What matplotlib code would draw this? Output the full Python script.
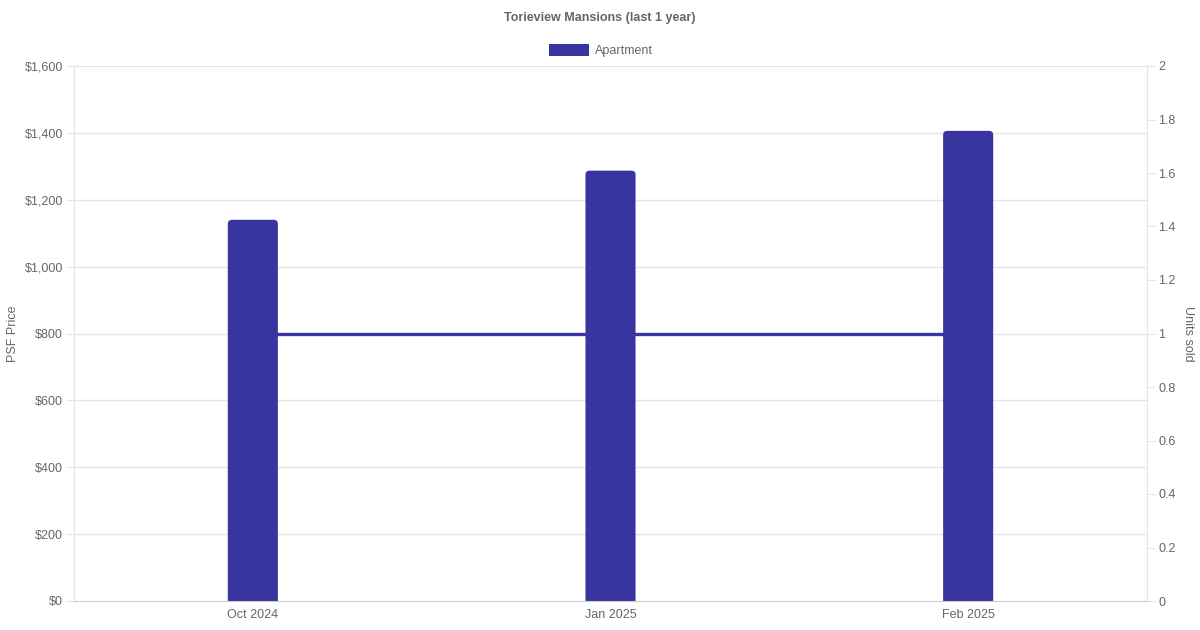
import matplotlib.pyplot as plt
import numpy as np
from matplotlib.patches import FancyBboxPatch

months = ["Oct 2024", "Jan 2025", "Feb 2025"]
psf_price = [1140, 1287, 1406]
units_sold = [1, 1, 1]

BLUE = "#3834a0"
GRID = "#e5e5e5"
TEXT = "#666666"

plt.rcParams["font.family"] = ["Liberation Sans", "DejaVu Sans"]

fig = plt.figure(figsize=(12, 6.3), dpi=100)
ax = fig.add_axes([74 / 1200, 29 / 630, 1073 / 1200, 535 / 630])
ax2 = ax.twinx()

x = np.arange(len(months))
bars = ax.bar(x, psf_price, width=0.14, color=BLUE, zorder=3)

# rounded top corners; bottom pushed below the axis so it gets clipped square
for b in bars:
    b.set_visible(False)
    bx, bw, bh = b.get_x(), b.get_width(), b.get_height()
    ax.add_patch(FancyBboxPatch((bx, -30), bw, bh + 30, boxstyle="round,pad=0,rounding_size=0.012",
                                mutation_aspect=1000, facecolor=BLUE, lw=0, zorder=3))

ax.set_xlim(-0.5, len(months) - 0.5)
ax.set_ylim(0, 1600)
ax2.set_ylim(0, 2)
left_ticks = np.arange(0, 1601, 200)
ax.set_yticks(left_ticks)
ax.set_yticklabels([f"${v:,.0f}" for v in left_ticks])
ax2.set_yticks(np.arange(0, 2.01, 0.2))
ax2.set_yticklabels(["0", "0.2", "0.4", "0.6", "0.8", "1", "1.2", "1.4", "1.6", "1.8", "2"])
ax.set_xticks(x)
ax.set_xticklabels(months)

# grid follows the left axis but sits under the line
for v in left_ticks[1:]:
    ax2.axhline(v / 800, color=GRID, lw=1, zorder=0)
ax2.plot(x, units_sold, color=BLUE, lw=2.4, zorder=2)
ax.set_zorder(ax2.get_zorder() + 1)
ax.patch.set_visible(False)

for a in (ax, ax2):
    for s in a.spines.values():
        s.set_visible(False)
ax.spines["left"].set_visible(True)
ax.spines["left"].set_color(GRID)
ax.spines["bottom"].set_visible(True)
ax.spines["bottom"].set_color("#cccccc")
ax.spines["bottom"].set_zorder(5)
ax2.spines["right"].set_visible(True)
ax2.spines["right"].set_color(GRID)

ax.tick_params(axis="y", colors=TEXT, length=6, color=GRID, labelsize=9, pad=2)
ax.tick_params(axis="x", colors=TEXT, length=0, labelsize=9, pad=6)
ax2.tick_params(axis="y", colors=TEXT, length=6, color=GRID, labelsize=9, pad=2)

ax.set_ylabel("PSF Price", color=TEXT, fontsize=9, labelpad=4)
ax2.set_ylabel("Units sold", color=TEXT, fontsize=9, rotation=270, labelpad=13)

fig.text(0.5, 1 - 18 / 630, "Torieview Mansions (last 1 year)", ha="center", va="center",
         color=TEXT, fontsize=9, fontweight="bold")

# legend
fig.patches.append(plt.Rectangle((549 / 1200, 1 - 56 / 630), 40 / 1200, 12 / 630,
                                 transform=fig.transFigure, facecolor=BLUE, lw=0, figure=fig))
fig.text(595 / 1200, 1 - 51 / 630, "Apartment", ha="left", va="center", color=TEXT, fontsize=9)

fig.savefig("out.png", dpi=100)
